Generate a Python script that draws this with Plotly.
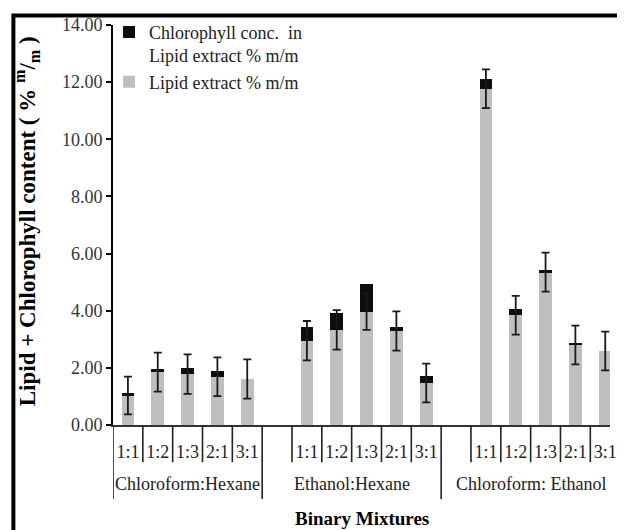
import plotly.graph_objects as go

groups = ["Chloroform:Hexane", "Ethanol:Hexane", "Chloroform: Ethanol"]
ratios = ["1:1", "1:2", "1:3", "2:1", "3:1"]

lipid = [
    [1.03, 1.85, 1.78, 1.69, 1.61],
    [2.95, 3.33, 3.97, 3.29, 1.47],
    [11.77, 3.84, 5.35, 2.80, 2.59],
]
chlorophyll = [
    [0.10, 0.10, 0.22, 0.21, 0.00],
    [0.49, 0.60, 0.97, 0.15, 0.25],
    [0.34, 0.21, 0.06, 0.05, 0.00],
]
lipid_err = [
    [0.66, 0.68, 0.69, 0.68, 0.69],
    [0.69, 0.69, 0.64, 0.69, 0.68],
    [0.68, 0.68, 0.68, 0.68, 0.68],
]
y_ticks = [0, 2, 4, 6, 8, 10, 12, 14]

FONT = "Liberation Serif"

# category keys, with an empty slot between groups
xs, lip, chl, err = [], [], [], []
category_order = []
for gi, g in enumerate(groups):
    if gi > 0:
        category_order.append(" " * gi)
    for ri, r in enumerate(ratios):
        key = f"{g}|{r}"
        category_order.append(key)
        xs.append(key)
        lip.append(lipid[gi][ri])
        chl.append(chlorophyll[gi][ri])
        err.append(lipid_err[gi][ri])

fig = go.Figure()
fig.add_trace(go.Bar(x=xs, y=lip, name="Lipid extract % m/m",
                     marker=dict(color="#bfbfbf", line=dict(width=0))))
fig.add_trace(go.Bar(x=xs, y=chl, name="Chlorophyll conc.  in<br>Lipid extract % m/m",
                     marker=dict(color="#0d0d0d", line=dict(width=0))))
fig.add_trace(go.Scatter(x=xs, y=lip, mode="markers", showlegend=False,
                         marker=dict(size=1, opacity=0),
                         error_y=dict(type="data", array=err, visible=True,
                                      color="#1a1a1a", thickness=1.8, width=4),
                         hoverinfo="skip"))

# separators below the x axis
shapes = []
long_edges, short_edges = [], []
idx = 0
for gi in range(len(groups)):
    if gi > 0:
        idx += 1
    start = idx
    for k in range(len(ratios) + 1):
        edge = start + k - 0.5
        if (k == 0 and gi == 0) or k == len(ratios):
            long_edges.append(edge)
        else:
            short_edges.append(edge)
    idx += len(ratios)

for e in long_edges:
    shapes.append(dict(type="line", xref="x", yref="paper", x0=e, x1=e,
                       y0=0, y1=-0.185, line=dict(color="#222", width=1.6)))
for e in short_edges:
    shapes.append(dict(type="line", xref="x", yref="paper", x0=e, x1=e,
                       y0=0, y1=-0.093, line=dict(color="#222", width=1.6)))

# outer frame (top and left edges visible)
shapes.append(dict(type="rect", xref="paper", yref="paper",
                   x0=-0.2004, x1=1.1, y0=-0.5, y1=1.0238,
                   line=dict(color="black", width=4), layer="above"))

annotations = []
group_centers = [2, 7.5, 13.5]
for g, c in zip(groups, group_centers):
    annotations.append(dict(x=c, y=-0.1475, xref="x", yref="paper", text=g,
                            showarrow=False, xanchor="center", yanchor="middle",
                            font=dict(family=FONT, size=18, color="#222")))
annotations.append(dict(x=0.5, y=-0.235, xref="paper", yref="paper",
                        text="<b>Binary Mixtures</b>", showarrow=False,
                        xanchor="center", yanchor="middle",
                        font=dict(family=FONT, size=19, color="black")))
annotations.append(dict(x=-0.1746, y=0.51, xref="paper", yref="paper",
                        text="<b>Lipid + Chlorophyll content ( % <sup>m</sup>/<sub>m</sub> )</b>",
                        textangle=-90, showarrow=False, xanchor="center", yanchor="middle",
                        font=dict(family=FONT, size=23, color="black")))

fig.update_layout(
    width=609, height=522,
    margin=dict(l=105, r=0, t=17, b=105),
    paper_bgcolor="white", plot_bgcolor="white",
    barmode="stack", bargap=0.58,
    showlegend=True,
    legend=dict(x=-0.008, y=1.028, xanchor="left", yanchor="top",
                traceorder="reversed", valign="top", bgcolor="rgba(0,0,0,0)",
                font=dict(family=FONT, size=18, color="#222")),
    font=dict(family=FONT, size=18, color="#222"),
    shapes=shapes, annotations=annotations,
    xaxis=dict(type="category", categoryorder="array", categoryarray=category_order,
               range=[-0.5, 16.16], tickvals=xs,
               ticktext=[k.split("|")[1] for k in xs],
               ticks="", ticklabelstandoff=9, showgrid=False,
               showline=True, linecolor="#333", linewidth=2,
               tickfont=dict(family=FONT, size=18, color="#222")),
    yaxis=dict(range=[0, 14], tickvals=y_ticks, tickformat=".2f",
               ticks="outside", ticklen=5, tickwidth=1.5, tickcolor="black",
               showgrid=False, zeroline=False, showline=True,
               linecolor="black", linewidth=2,
               tickfont=dict(family=FONT, size=18, color="#333")),
)

fig.write_html("out.html")
